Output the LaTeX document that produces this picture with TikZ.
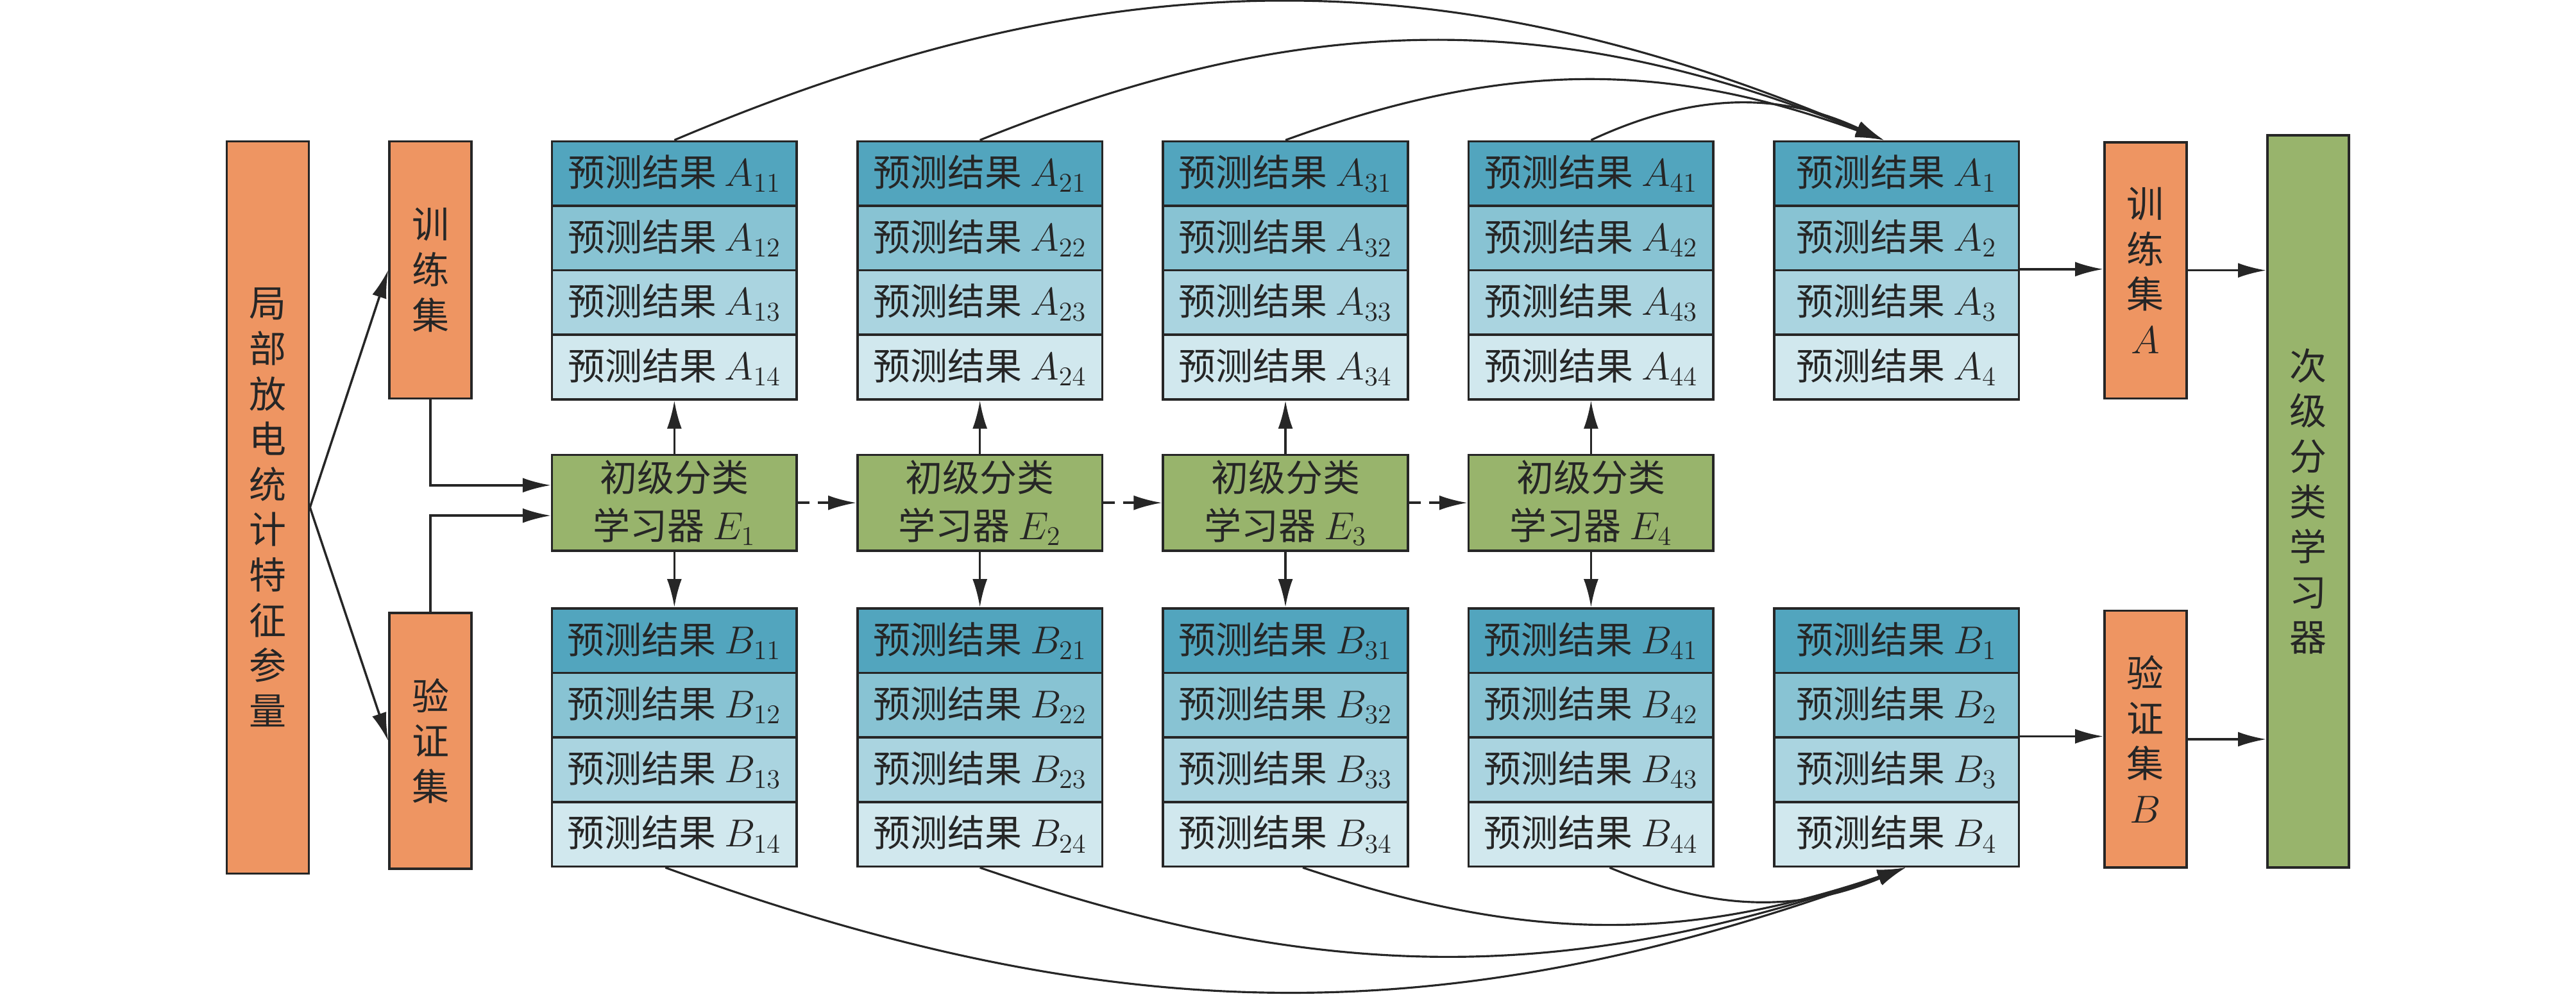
\documentclass[tikz,border=0pt]{standalone}
\usepackage{fontspec}
\setmainfont{Noto Sans CJK SC}
\usepackage{xcolor}
\usepackage{tikz}
\usetikzlibrary{arrows.meta}
\definecolor{orangebox}{HTML}{EE9562}
\definecolor{greenbox}{HTML}{98B46C}
\definecolor{blueA}{HTML}{52A5BE}
\definecolor{blueB}{HTML}{88C3D3}
\definecolor{blueC}{HTML}{AAD4E0}
\definecolor{blueD}{HTML}{D1E8EE}
\definecolor{linecol}{HTML}{262626}

\begin{document}
\begin{tikzpicture}[x=0.2561mm, y=-0.2561mm]
\tikzstyle{box}=[rectangle, draw=linecol, line width=1pt, inner sep=0pt, text=black!85, font=\fontsize{16.5}{20}\selectfont]
\tikzstyle{pred}=[box, minimum width=38.16mm, minimum height=10.06mm]
\tikzstyle{learner}=[box, fill=greenbox, minimum width=38.16mm, minimum height=14.98mm, align=center, font=\fontsize{16.5}{21.1}\selectfont]
\tikzstyle{tall}=[box, minimum width=12.8mm, align=center, font=\fontsize{16.5}{20.1}\selectfont]
\tikzstyle{connect}=[-{Latex[length=4.4mm, width=2.3mm]}, line width=1pt, draw=linecol]
\tikzstyle{dashconnect}=[connect, dash pattern=on 1.8mm off 1.3mm]
\tikzstyle{arc}=[connect, line width=0.9pt]
  \useasboundingbox (0,0) rectangle (1568.1,606.8);
  \node[tall, fill=orangebox, minimum height=114.2mm] (feat) at (163,309) {局\\部\\放\\电\\统\\计\\特\\征\\参\\量};
  \node[tall, fill=orangebox, minimum height=40.13mm] (trainset) at (262,164.4) {训\\练\\集};
  \node[tall, fill=orangebox, minimum height=39.87mm] (valset) at (262,451.2) {验\\证\\集};
  \foreach \c in {1,...,4}
    \foreach \r/\shade in {1/blueA,2/blueB,3/blueC,4/blueD} {
      \node[pred, fill=\shade] (a\c\r) at ({410.5+186*(\c-1)},{86+39.3*(\r-0.5)}) {预测结果 $A_{\c\r}$};
      \node[pred, fill=\shade] (b\c\r) at ({410.5+186*(\c-1)},{370.5+39.3*(\r-0.5)}) {预测结果 $B_{\c\r}$};
    }
  \foreach \r/\shade in {1/blueA,2/blueB,3/blueC,4/blueD} {
    \node[pred, fill=\shade] (a5\r) at (1154.5,{86+39.3*(\r-0.5)}) {预测结果 $A_{\r}$};
    \node[pred, fill=\shade] (b5\r) at (1154.5,{370.5+39.3*(\r-0.5)}) {预测结果 $B_{\r}$};
  }
  \foreach \c in {1,...,4}
    \node[learner] (enode\c) at ({410.5+186*(\c-1)},306.2) {初级分类\\学习器 $E_{\c}$};
  \node[tall, fill=orangebox, minimum height=39.98mm] (trainA) at (1306,164.65) {训\\练\\集\\$A$};
  \node[tall, fill=orangebox, minimum height=40.05mm] (valB) at (1306,450.2) {验\\证\\集\\$B$};
  \node[tall, fill=greenbox, minimum width=12.7mm, minimum height=114.2mm] (meta) at (1405,305.35) {次\\级\\分\\类\\学\\习\\器};
  \draw[connect] (feat.east) -- (trainset.west);
  \draw[connect] (feat.east) -- (valset.west);
  \draw[connect] (trainset.south) |- ([yshift=2.74mm]enode1.west);
  \draw[connect] (valset.north) |- ([yshift=-2mm]enode1.west);
  \foreach \c in {1,...,4} {
    \draw[connect] (enode\c.north) -- (a\c4.south);
    \draw[connect] (enode\c.south) -- (b\c1.north);
  }
  \foreach \c/\n in {1/2,2/3,3/4}
    \draw[dashconnect] (enode\c.east) -- (enode\n.west);
  \foreach \c/\b in {1/23,2/22,3/20,4/25}
    \draw[arc] (a\c1.north) to[bend left=\b] ([xshift=-2mm]a51.north);
  \foreach \c/\b/\s in {1/20/-1.4,2/19/0,3/18.6/2.7,4/22.6/2.9}
    \draw[arc] ([xshift=\s mm]b\c4.south) to[bend right=\b] ([xshift=1.4mm]b54.south);
  \draw[connect] (a53.north east) -- (a53.north east -| trainA.west);
  \draw[connect] (trainA.east) -- (trainA.east -| meta.west);
  \draw[connect] (b53.north east) -- (b53.north east -| valB.west);
  \draw[connect] (valB.east) -- (valB.east -| meta.west);
\end{tikzpicture}
\end{document}
